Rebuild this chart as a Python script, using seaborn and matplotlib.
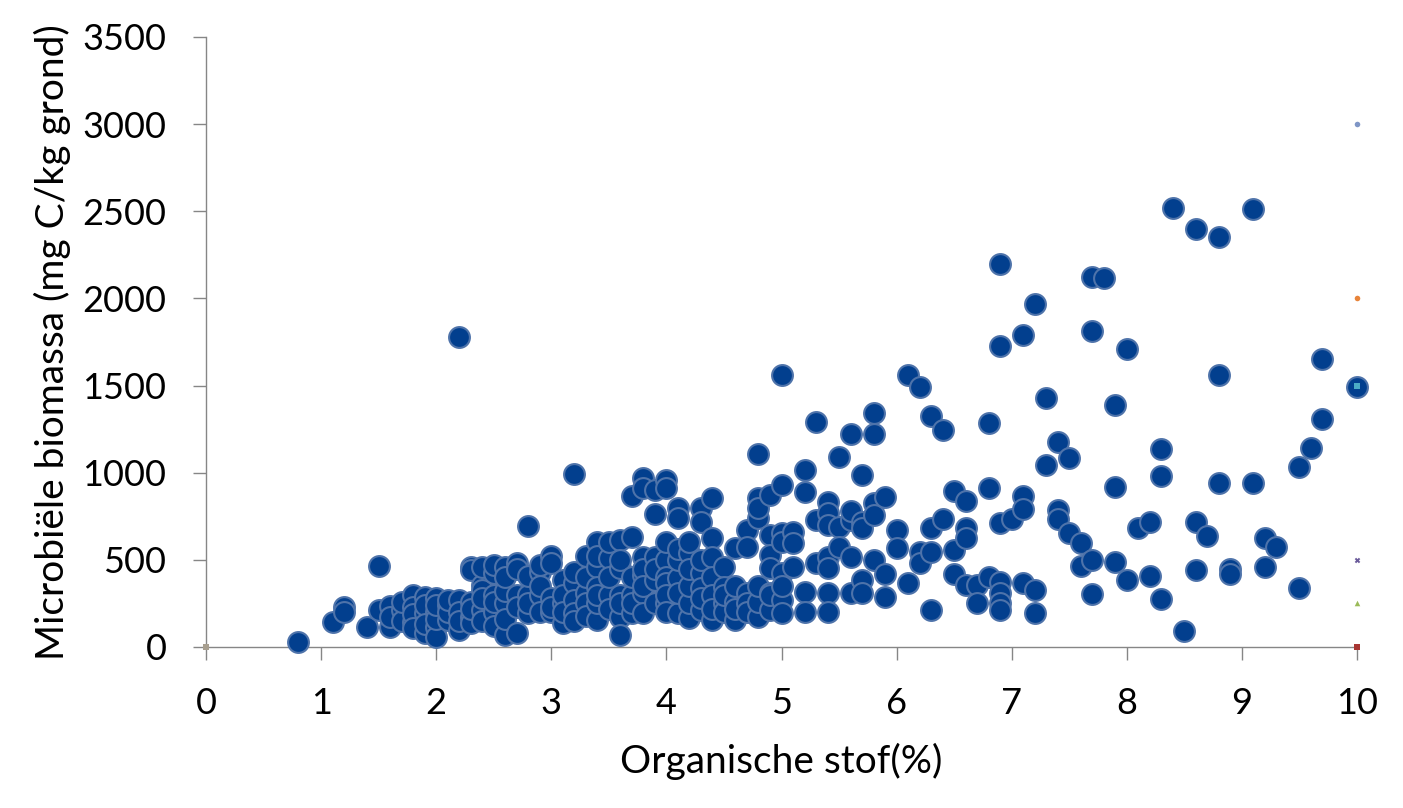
import matplotlib
matplotlib.use("Agg")
import matplotlib.pyplot as plt
import seaborn as sns
import pandas as pd

# organic matter (%) and microbial biomass (mg C/kg soil)
organic_matter = [
    0.8, 1.1, 1.2, 1.2, 1.4, 1.5, 1.5, 1.6, 1.6, 1.6,
    1.7, 1.7, 1.7, 1.8, 1.8, 1.8, 1.8, 1.8, 1.9, 1.9, 1.9, 1.9, 1.9,
    2.0, 2.0, 2.0, 2.0, 2.0, 2.0, 2.1, 2.1, 2.1, 2.1,
    2.2, 2.2, 2.2, 2.2, 2.2, 2.3, 2.3, 2.3, 2.3, 2.3, 2.3,
    2.4, 2.4, 2.4, 2.4, 2.4, 2.4, 2.5, 2.5, 2.5, 2.5, 2.5, 2.5,
    2.6, 2.6, 2.6, 2.6, 2.6, 2.6, 2.7, 2.7, 2.7, 2.7, 2.7,
    2.8, 2.8, 2.8, 2.8, 2.8, 2.9, 2.9, 2.9, 2.9, 2.9,
    3.0, 3.0, 3.0, 3.0, 3.0, 3.1, 3.1, 3.1, 3.1, 3.1,
    3.2, 3.2, 3.2, 3.2, 3.2, 3.2, 3.3, 3.3, 3.3, 3.3, 3.3,
    3.4, 3.4, 3.4, 3.4, 3.4, 3.4, 3.4, 3.5, 3.5, 3.5, 3.5, 3.5,
    3.6, 3.6, 3.6, 3.6, 3.6, 3.6, 3.6, 3.7, 3.7, 3.7, 3.7, 3.7, 3.7,
    3.8, 3.8, 3.8, 3.8, 3.8, 3.8, 3.8, 3.8, 3.9, 3.9, 3.9, 3.9, 3.9, 3.9,
    4.0, 4.0, 4.0, 4.0, 4.0, 4.0, 4.0, 4.0, 4.0,
    4.1, 4.1, 4.1, 4.1, 4.1, 4.1, 4.1, 4.2, 4.2, 4.2, 4.2, 4.2, 4.2,
    4.3, 4.3, 4.3, 4.3, 4.3, 4.3, 4.3, 4.4, 4.4, 4.4, 4.4, 4.4, 4.4, 4.4,
    4.5, 4.5, 4.5, 4.5, 4.5, 4.6, 4.6, 4.6, 4.6, 4.6,
    4.7, 4.7, 4.7, 4.7, 4.7, 4.8, 4.8, 4.8, 4.8, 4.8, 4.8, 4.8,
    4.9, 4.9, 4.9, 4.9, 4.9, 4.9, 4.9, 5.0, 5.0, 5.0, 5.0, 5.0, 5.0, 5.0, 5.0,
    5.1, 5.1, 5.1, 5.2, 5.2, 5.2, 5.2, 5.3, 5.3, 5.3,
    5.4, 5.4, 5.4, 5.4, 5.4, 5.4, 5.4, 5.5, 5.5, 5.5,
    5.6, 5.6, 5.6, 5.6, 5.6, 5.7, 5.7, 5.7, 5.7, 5.7,
    5.8, 5.8, 5.8, 5.8, 5.8, 5.9, 5.9, 5.9, 6.0, 6.0, 6.1, 6.1,
    6.2, 6.2, 6.2, 6.3, 6.3, 6.3, 6.3, 6.4, 6.4, 6.5, 6.5, 6.5,
    6.6, 6.6, 6.6, 6.6, 6.7, 6.7, 6.8, 6.8, 6.8,
    6.9, 6.9, 6.9, 6.9, 6.9, 6.9, 6.9, 7.0, 7.1, 7.1, 7.1, 7.1,
    7.2, 7.2, 7.2, 7.3, 7.3, 7.4, 7.4, 7.4, 7.5, 7.5, 7.6, 7.6,
    7.7, 7.7, 7.7, 7.7, 7.8, 7.9, 7.9, 7.9, 8.0, 8.0, 8.1, 8.2, 8.2,
    8.3, 8.3, 8.3, 8.4, 8.5, 8.6, 8.6, 8.6, 8.7, 8.8, 8.8, 8.8,
    8.9, 8.9, 9.1, 9.1, 9.2, 9.2, 9.3, 9.5, 9.5, 9.6, 9.7, 9.7, 10.0,
]
biomass = [
    30, 145, 228, 203, 113, 465, 212, 235, 113, 170,
    212, 150, 260, 298, 231, 145, 190, 110, 289, 193, 79, 240, 130,
    279, 117, 60, 200, 160, 240, 241, 155, 200, 270,
    98, 270, 1778, 200, 150, 461, 440, 174, 136, 260, 220,
    356, 327, 212, 460, 280, 150, 423, 203, 470, 300, 260, 120,
    461, 69, 250, 160, 320, 400, 480, 298, 80, 230, 450,
    694, 193, 300, 410, 250, 432, 298, 470, 200, 350,
    522, 203, 280, 480, 230, 384, 136, 250, 300, 200,
    991, 365, 270, 193, 430, 150, 522, 308, 250, 400, 180,
    604, 461, 346, 155, 250, 300, 520, 509, 298, 220, 400, 600,
    614, 452, 174, 69, 300, 250, 500, 866, 633, 193, 300, 400, 250,
    968, 910, 518, 413, 308, 193, 450, 350, 763, 518, 384, 900, 250, 450,
    958, 910, 499, 403, 251, 365, 300, 600, 200,
    796, 738, 394, 193, 308, 500, 560, 537, 164, 600, 250, 350, 450,
    796, 719, 423, 212, 337, 500, 280, 857, 624, 518, 155, 400, 300, 220,
    461, 251, 346, 200, 300, 566, 260, 155, 350, 220,
    671, 575, 308, 250, 200, 1105, 853, 738, 174, 260, 350, 800,
    872, 643, 528, 452, 212, 308, 300, 930, 652, 423, 270, 193, 1560, 600, 350,
    662, 595, 461, 1016, 891, 317, 203, 1290, 729, 480,
    834, 767, 518, 452, 308, 203, 700, 1092, 690, 575,
    1220, 729, 518, 308, 780, 987, 719, 681, 384, 308,
    1340, 1222, 824, 757, 499, 862, 419, 289, 671, 570, 1560, 365,
    1490, 547, 480, 1327, 685, 547, 212, 1243, 734, 895, 557, 419,
    838, 685, 624, 356, 356, 251, 1283, 910, 403,
    2195, 1725, 710, 375, 308, 251, 212, 734, 1790, 866, 790, 365,
    1970, 327, 193, 1427, 1044, 1176, 786, 732, 1082, 652, 595, 465,
    2125, 1815, 499, 302, 2115, 1387, 916, 488, 1708, 384, 685, 720, 410,
    1135, 980, 274, 2520, 94, 2400, 715, 440, 635, 2355, 1560, 940,
    450, 420, 2515, 940, 625, 457, 575, 1030, 340, 1140, 1650, 1310, 1490,
]

# tiny leftover series markers (empty spreadsheet series)
extra_x = [10, 10, 10, 10, 10, 10, 0]
extra_y = [3000, 2000, 1500, 500, 250, 0, 0]
extra_colors = ["#7f96c6", "#e8843a", "#4bacc6", "#6a5a9a", "#9bbb59", "#a83632", "#a89f8f"]
extra_markers = ["o", "o", "s", "X", "^", "s", "s"]

df = pd.DataFrame({"Organische stof": organic_matter, "Biomassa": biomass})

sns.set_style("white")
plt.rcParams["font.family"] = ["Lato", "DejaVu Sans"]
plt.rcParams["text.color"] = "black"
plt.rcParams["axes.labelcolor"] = "black"

fig = plt.figure(figsize=(14.03, 8.08), dpi=100)
ax = fig.add_axes([206 / 1403, 1 - 647 / 808, 1151 / 1403, 610 / 808])

sns.scatterplot(data=df, x="Organische stof", y="Biomassa", ax=ax,
                s=225, color="#023f8e", edgecolor="#4e73aa", linewidth=1.5,
                clip_on=False, zorder=3)

for xv, yv, c, m in zip(extra_x, extra_y, extra_colors, extra_markers):
    ax.scatter(xv, yv, s=16, color=c, marker=m, linewidths=0, clip_on=False, zorder=4)

ax.set_xlim(0, 10)
ax.set_ylim(0, 3500)
ax.set_xticks(range(0, 11))
ax.set_yticks(range(0, 3501, 500))

for side in ["top", "right"]:
    ax.spines[side].set_visible(False)
for side in ["left", "bottom"]:
    ax.spines[side].set_color("#868686")
    ax.spines[side].set_linewidth(1.0)

ax.tick_params(axis="both", which="major", bottom=True, left=True,
               direction="out", length=9.5, width=1.0,
               color="#868686", labelsize=26, labelcolor="black")
ax.tick_params(axis="x", pad=19)
ax.tick_params(axis="y", pad=19)

ax.set_xlabel("Organische stof(%)", fontsize=28, labelpad=17)
ax.set_ylabel("Microbiële biomassa (mg C/kg grond)", fontsize=28, labelpad=8)

fig.savefig("out.png", dpi=100)
